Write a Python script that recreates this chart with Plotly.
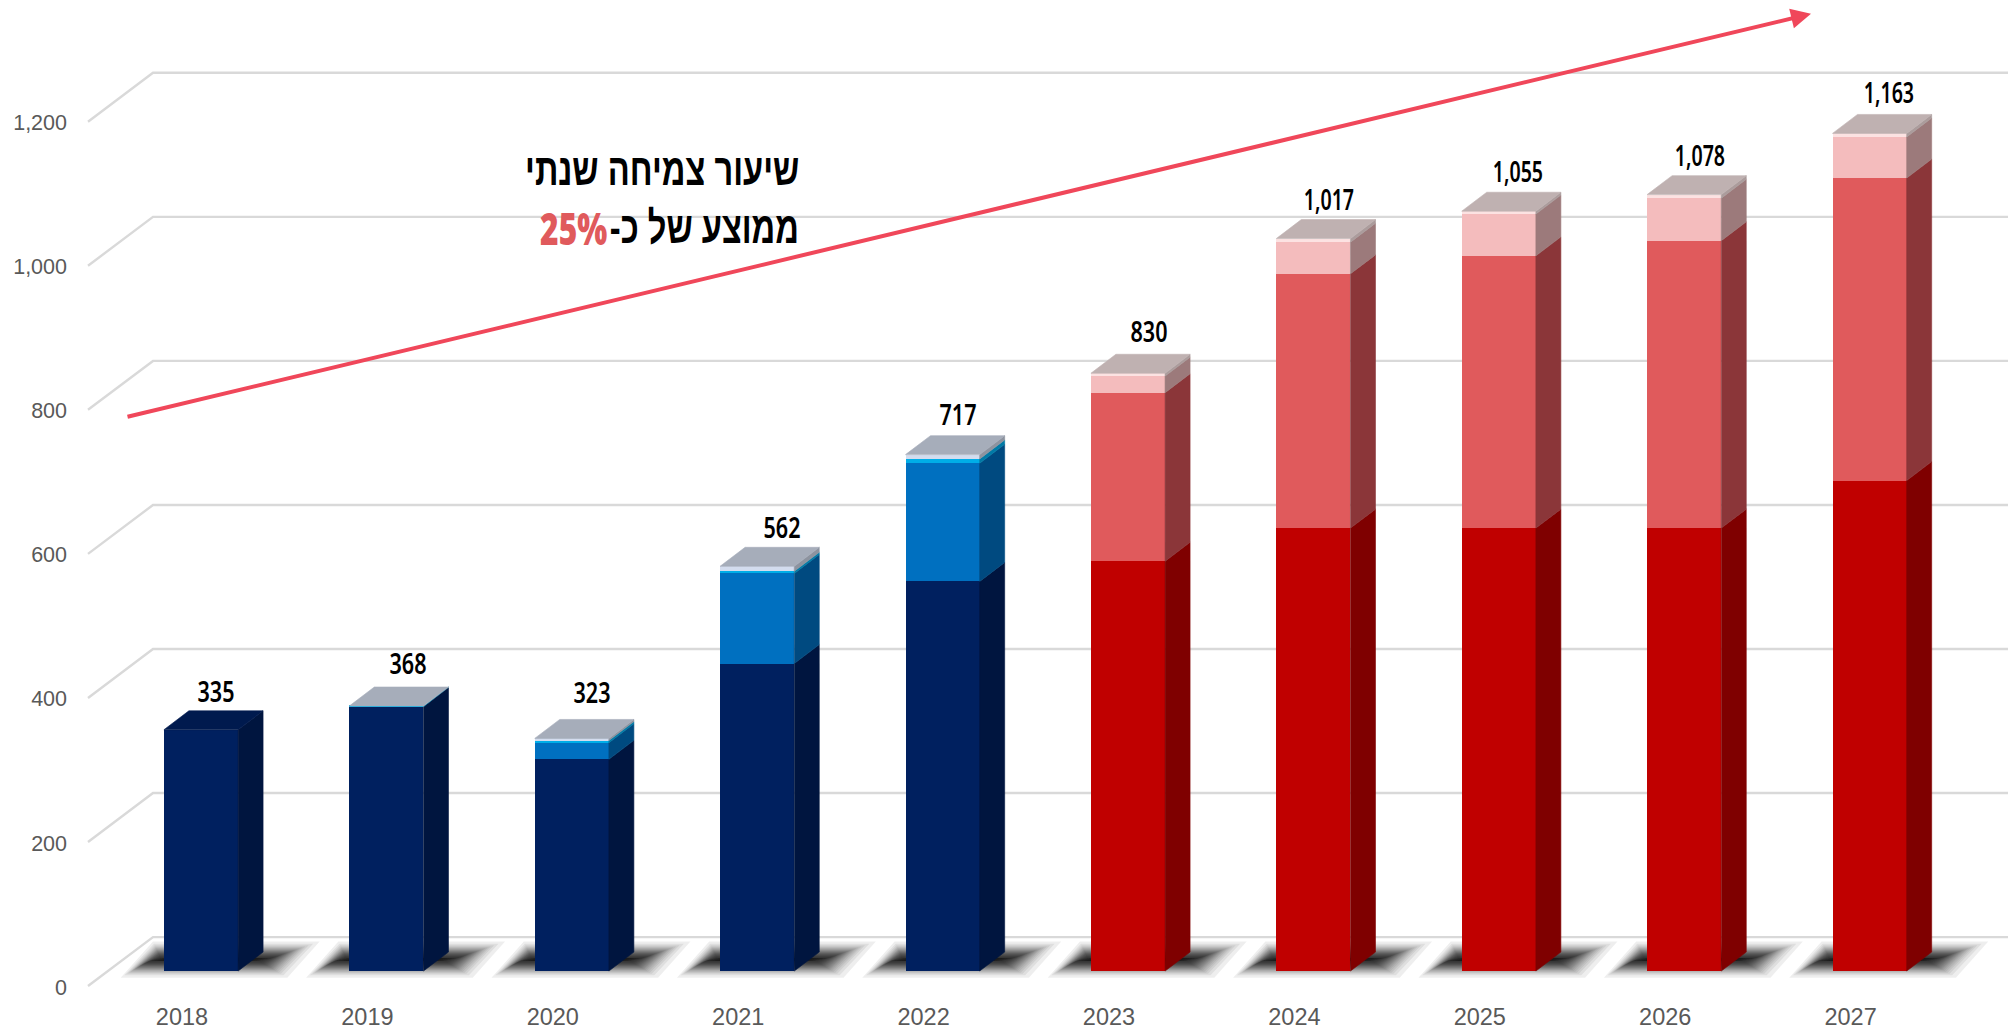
from statistics import NormalDist

import plotly.graph_objects as go

# Annual totals and their stacked components
years = ["2018", "2019", "2020", "2021", "2022", "2023", "2024", "2025", "2026", "2027"]
base = [335, 367, 294, 427, 541, 569, 615, 615, 615, 681]
mid = [0, 0, 23, 125, 164, 234, 353, 378, 399, 420]
upper = [0, 1, 3, 3, 6, 23, 44, 58, 59, 57]
cap = [0, 0, 3, 7, 6, 4, 5, 4, 5, 5]
totals = [335, 368, 323, 562, 717, 830, 1017, 1055, 1078, 1163]
total_labels = ["335", "368", "323", "562", "717", "830", "1,017", "1,055", "1,078", "1,163"]
y_ticks = [0, 200, 400, 600, 800, 1000, 1200]
y_tick_labels = ["0", "200", "400", "600", "800", "1,000", "1,200"]

# Palettes: front face / side face for each stack level, plus the top face
BLUE = dict(front=["#00205f", "#0070c0", "#00aee8", "#d3dcee"],
            side=["#00153f", "#004a80", "#007aa6", "#8d939f"], top="#a6adba", top_plain="#001a4e")
RED = dict(front=["#c00000", "#e05a5c", "#f4bcbd", "#fce2e2"],
           side=["#7f0000", "#8b3639", "#9c7a7b", "#ab9c9c"], top="#bfb1b1", top_plain="#7f0000")
FIRST_FORECAST = 5

# Pixel scale of the page, used to size the oblique projection in data units
X_UNIT = 185.4
Y_UNIT = 0.7217
BAR_W = 0.4
DEPTH_X = 25 / X_UNIT
DEPTH_Y = 19 / Y_UNIT
WALL_X0 = -0.2589
FRONT_X0 = -0.6095
X_MAX = 9.7465
FRONT_DY = -20.8
WALL_DY = 47.1

n = len(years)
stacks = [base, mid, upper, cap]
palette_of = [BLUE if i < FIRST_FORECAST else RED for i in range(n)]


def shadow_path(cx, grow):
    """Skewed floor parallelogram behind a bar; grow is in pixels."""
    gy = max(grow * 0.6, -8)
    x0 = cx + (-66 - grow) / X_UNIT
    x1 = cx + (72 + grow) / X_UNIT
    y0 = (2 - gy) / Y_UNIT
    y1 = (21 + gy) / Y_UNIT
    skew = (22 + gy * 1.2) / X_UNIT
    return (f"M {x0:.4f} {y0:.2f} L {x1:.4f} {y0:.2f} "
            f"L {x1 + skew:.4f} {y1:.2f} L {x0 + skew:.4f} {y1:.2f} Z")


shapes = []
# Wall and side grid lines, one polyline per tick
for v in y_ticks:
    shapes.append(dict(
        type="path", layer="below", xref="x", yref="y",
        path=(f"M {FRONT_X0} {v + FRONT_DY} L {WALL_X0} {v + WALL_DY} "
              f"L {X_MAX} {v + WALL_DY}"),
        line=dict(color="#d9d9d9", width=2.4),
    ))
# Soft floor shadows: nested translucent layers whose accumulated opacity
# follows a bell-curve edge profile
SHADOW_LAYERS = 30
LAYER_ALPHA = 0.066
PEAK = 1 - (1 - LAYER_ALPHA) ** SHADOW_LAYERS
bell = NormalDist(0, 10)
for i in range(n):
    for k in range(1, SHADOW_LAYERS + 1):
        coverage = min((1 - (1 - LAYER_ALPHA) ** k) / PEAK, 0.99)
        shapes.append(dict(
            type="path", layer="below", xref="x", yref="y",
            path=shadow_path(i, -bell.inv_cdf(coverage)),
            line=dict(width=0), fillcolor=f"rgba(0,0,0,{LAYER_ALPHA})",
        ))

fig = go.Figure()

# Front faces as a stacked bar chart
for lvl, values in enumerate(stacks):
    fig.add_trace(go.Bar(
        x=list(range(n)), y=values, width=BAR_W,
        marker=dict(color=[palette_of[i]["front"][lvl] for i in range(n)], line=dict(width=0)),
        hoverinfo="skip", showlegend=False,
    ))


def add_polygons(xs, ys, color):
    fig.add_trace(go.Scatter(
        x=xs, y=ys, mode="lines", fill="toself", fillcolor=color,
        line=dict(width=0.6, color=color), hoverinfo="skip", showlegend=False,
    ))


# Side and top faces derived from the same stacked values
for i in range(n):
    pal = palette_of[i]
    right = i + BAR_W / 2
    left = i - BAR_W / 2
    running = 0
    for lvl, values in enumerate(stacks):
        v = values[i]
        if v > 0:
            add_polygons(
                [right, right + DEPTH_X, right + DEPTH_X, right, right],
                [running, running + DEPTH_Y, running + v + DEPTH_Y, running + v, running],
                pal["side"][lvl],
            )
        running += v
    top_color = pal["top"] if upper[i] + cap[i] > 0 else pal["top_plain"]
    add_polygons(
        [left, right, right + DEPTH_X, left + DEPTH_X, left],
        [totals[i], totals[i], totals[i] + DEPTH_Y, totals[i] + DEPTH_Y, totals[i]],
        top_color,
    )

# Total labels above each bar
LABEL_DX = [15, 22, 20, 25, 15, 21, 16, 19, 16, 19]
LABEL_DY = [39, 43, 46, 39, 41, 42, 40, 40, 40, 41]
LABEL_FONT = dict(family="Noto Sans", size=28, color="#000000", weight=600)
annotations = [
    dict(x=i, y=totals[i], xref="x", yref="y", text=total_labels[i], showarrow=False,
         xshift=LABEL_DX[i], yshift=LABEL_DY[i], font=LABEL_FONT)
    for i in range(n)
]

# Growth trend arrow
annotations.append(dict(
    x=8.684, y=1329, ax=-0.4045, ay=769, xref="x", yref="y", axref="x", ayref="y",
    text="", showarrow=True, arrowhead=2, arrowsize=1, arrowwidth=4, arrowcolor="#f0475a",
))

# Growth-rate caption
CAPTION_FONT = dict(family="Liberation Sans", size=45, color="#000000", weight=700)
annotations += [
    dict(x=3.236, y=1112.6, xref="x", yref="y", xanchor="right", showarrow=False,
         text="שיעור צמיחה שנתי", font=CAPTION_FONT),
    dict(x=3.236, y=1032, xref="x", yref="y", xanchor="right", showarrow=False,
         text="ממוצע של כ-\u200f", font=CAPTION_FONT),
    dict(x=2.2015, y=1032, xref="x", yref="y", xanchor="right", showarrow=False,
         text="25%", font=dict(family="Noto Sans", size=44, color="#e05a5c", weight=900)),
]

fig.update_layout(
    width=2008, height=1030, barmode="stack", bargap=0,
    margin=dict(l=72, r=0, t=0, b=28, pad=0),
    paper_bgcolor="#ffffff", plot_bgcolor="#ffffff",
    shapes=shapes, annotations=annotations, showlegend=False,
    xaxis=dict(range=[-0.6958, X_MAX], tickmode="array", tickvals=list(range(n)), ticktext=years,
               ticklabelshift=-19, ticks="", showgrid=False, zeroline=False, showline=False,
               tickfont=dict(family="Liberation Sans", size=23.5, color="#595959")),
    yaxis=dict(range=[-40.2, 1348.2], tickmode="array", tickvals=y_ticks, ticktext=y_tick_labels,
               ticklabelshift=16, ticklabelstandoff=4, ticks="", showgrid=False, zeroline=False, showline=False,
               tickfont=dict(family="Liberation Sans", size=21.5, color="#595959")),
)

# Narrow the display typeface horizontally, since no condensed face is installed
CONDENSE_TEXT = """
document.querySelectorAll('.annotation-text').forEach(function (t) {
  var s = t.textContent;
  var hebrew = /[\\u0590-\\u05FF]/.test(s);
  var percent = s.indexOf('%') >= 0;
  var ratio = hebrew ? 0.725 : percent ? 0.72 : (s.indexOf(',') >= 0 ? 0.7 : 0.77);
  t.style.transformBox = 'fill-box';
  t.style.transformOrigin = (hebrew || percent) ? '100% 50%' : '50% 50%';
  t.style.transform = 'scaleX(' + ratio + ')';
});
"""

fig.write_html("out.html", post_script=CONDENSE_TEXT)
